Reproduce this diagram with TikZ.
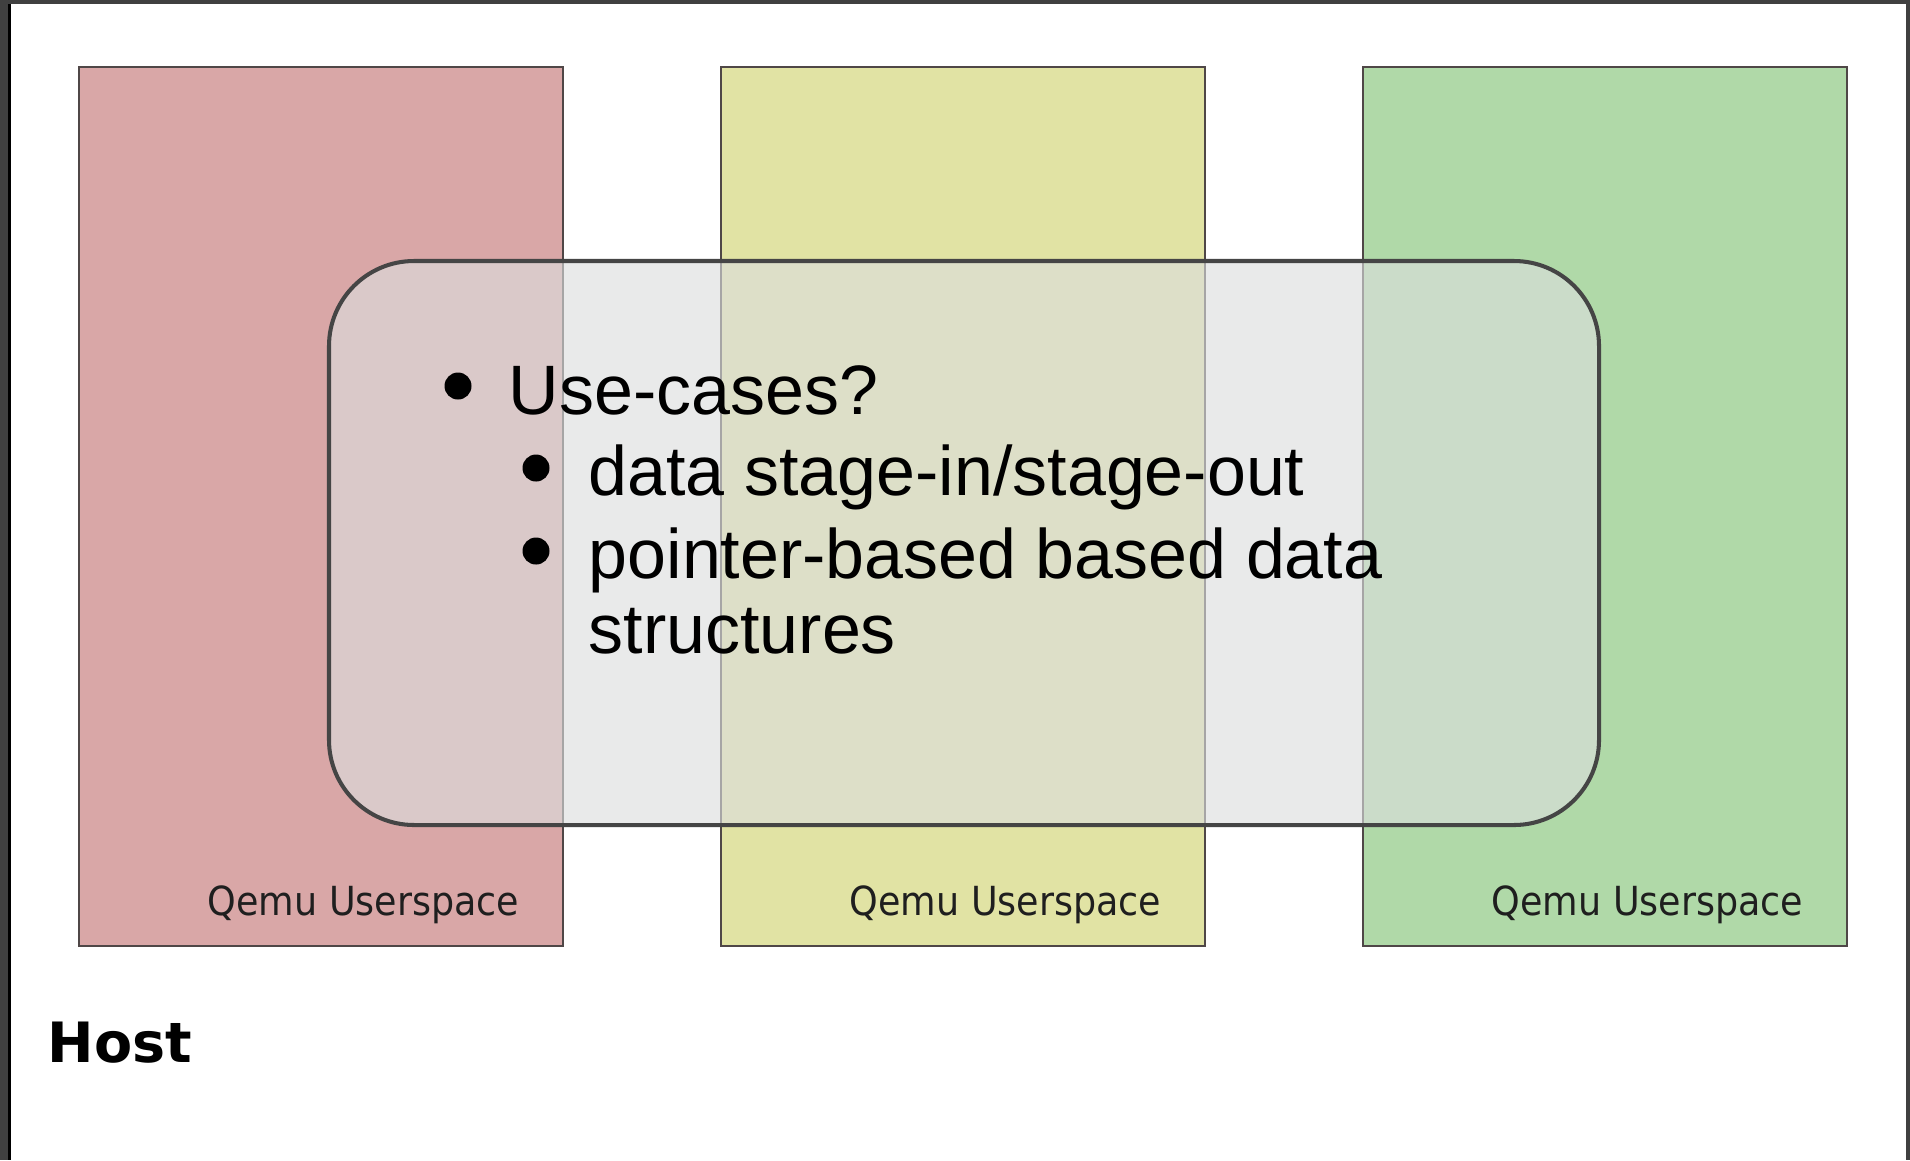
\documentclass[tikz,border=0pt]{standalone}
\usepackage{fontspec}
\setmainfont{Liberation Sans}
\newfontfamily\vera{DejaVu Sans}

\definecolor{framegray}{HTML}{404040}
\definecolor{vmred}{HTML}{D9A7A7}
\definecolor{vmyellow}{HTML}{E1E3A4}
\definecolor{vmgreen}{HTML}{B0D9A8}
\definecolor{vmedge}{HTML}{4F4747}
\definecolor{overlayfill}{HTML}{DCDEDE}
\definecolor{overlayedge}{HTML}{454545}

\tikzset{
  vmbox/.style={draw=vmedge, line width=0.6pt},
  overlay box/.style={fill=overlayfill, fill opacity=0.625, draw=overlayedge,
    draw opacity=1, line width=1.15pt, rounded corners=0.85cm},
  vmlabel/.style={anchor=base east, inner sep=0pt, text=black!88,
    font=\vera\fontsize{11.4pt}{13pt}\selectfont},
  itemtext/.style={anchor=base west, inner sep=0pt,
    font=\fontsize{19.9pt}{23pt}\selectfont},
  bulletdot/.style={circle, fill=black, inner sep=0pt, minimum size=0.27cm},
  hostlabel/.style={anchor=base west, inner sep=0pt,
    font=\vera\bfseries\fontsize{15.8pt}{18pt}\selectfont},
}

\begin{document}
\begin{tikzpicture}[x=0.01cm, y=-0.01cm]
  \useasboundingbox (0,0) rectangle (1910,1160);
  \fill[white] (0,0) rectangle (1910,1160);

  % window frame
  \fill[framegray] (0,0) rectangle (8,1160);
  \fill[black] (8,0) rectangle (11,1160);
  \fill[framegray] (0,0) rectangle (1910,4);
  \fill[framegray] (1906,0) rectangle (1910,1160);

  % three guest columns
  \path[vmbox, fill=vmred]    (79,67)   rectangle (563,946);
  \path[vmbox, fill=vmyellow] (721,67)  rectangle (1205,946);
  \path[vmbox, fill=vmgreen]  (1363,67) rectangle (1847,946);

  \node[vmlabel] (q1) at (520,915)  {\scalebox{0.91}[1]{Qemu Userspace}};
  \node[vmlabel] (q2) at (1162,915) {\scalebox{0.91}[1]{Qemu Userspace}};
  \node[vmlabel] (q3) at (1804,915) {\scalebox{0.91}[1]{Qemu Userspace}};

  \node[hostlabel] (host) at (47,1062) {Host};

  % translucent callout
  \path[overlay box] (329,261) rectangle (1599,825);

  % bullet list
  \node[bulletdot] (b1) at (458,386) {};
  \node[itemtext] (t1) at (508,414) {Use-cases?};
  \node[bulletdot] (b2) at (536,468) {};
  \node[itemtext] (t2) at (588,495) {data stage-in/stage-out};
  \node[bulletdot] (b3) at (536,551) {};
  \node[itemtext] (t3) at (588,578) {pointer-based based data};
  \node[itemtext] (t4) at (588,653) {structures};
\end{tikzpicture}
\end{document}
